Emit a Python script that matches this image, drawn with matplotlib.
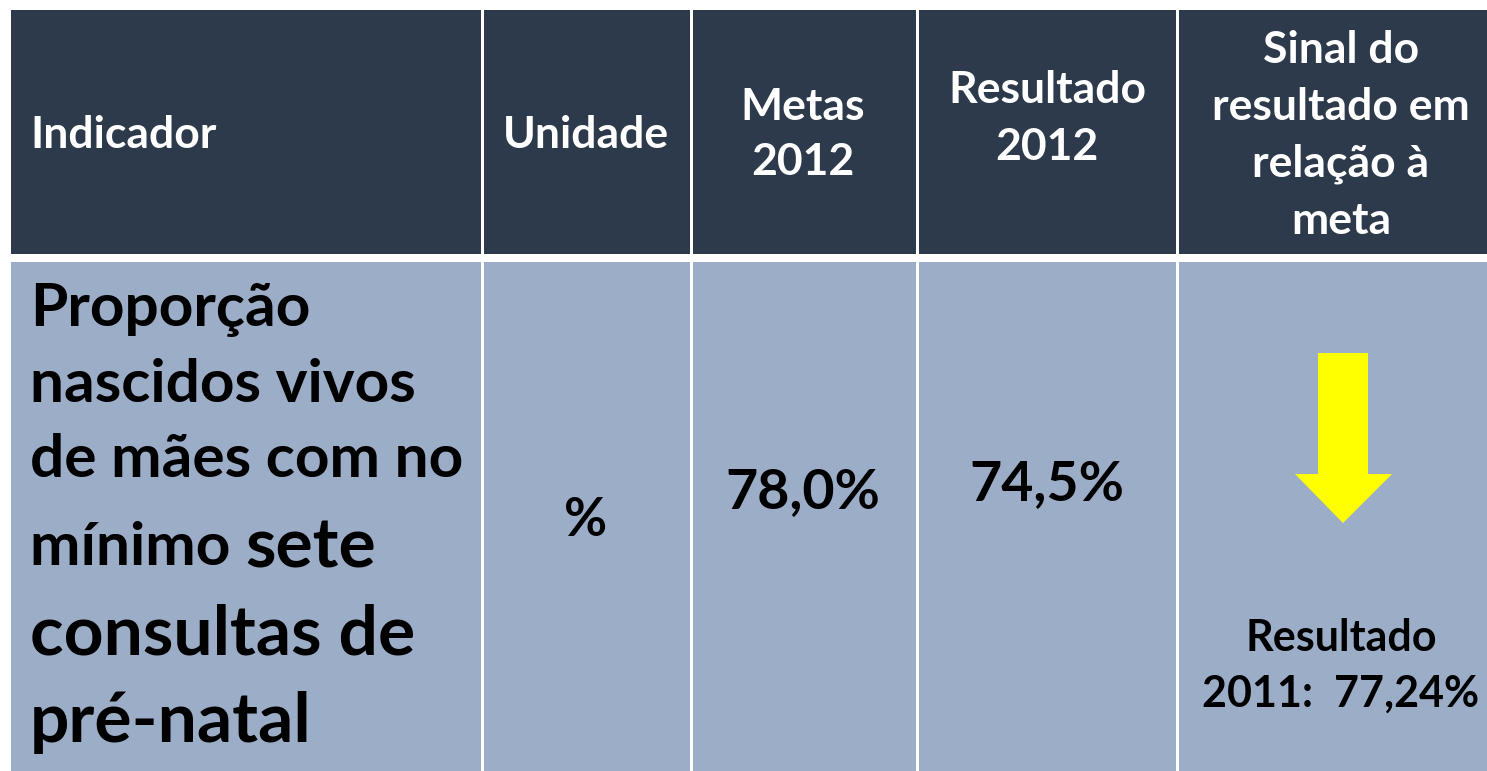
import matplotlib.pyplot as plt
from matplotlib.patches import Rectangle, Polygon

plt.rcParams['font.family'] = ['Lato', 'DejaVu Sans']

# dados da tabela
cabecalhos = ["Indicador", "Unidade", "Metas\n2012", "Resultado\n2012",
              "Sinal do\nresultado em\nrelação à\nmeta"]
indicador = ["Proporção", "nascidos vivos", "de mães com no", "mínimo", "sete",
             "consultas de", "pré-natal"]
unidade = "%"
meta_2012 = 78.0
resultado_2012 = 74.5
resultado_2011 = 77.24


def pct(v, casas=1):
    return f"{v:.{casas}f}%".replace(".", ",")


COR_CAB = "#2D3A4B"
COR_CORPO = "#9BADC7"

W, H = 1487, 771
fig = plt.figure(figsize=(W / 100, H / 100), dpi=100)
ax = fig.add_axes([0, 0, 1, 1])
ax.set_xlim(0, W)
ax.set_ylim(H, 0)
ax.axis("off")

# colunas e linhas (pixels)
bordas = [11, 481, 690, 916, 1176, W + 5]
gap = 3
cab_y0, cab_y1 = 10, 254
corpo_y0, corpo_y1 = 262, H + 5

for i in range(len(bordas) - 1):
    x0 = bordas[i] + (gap if i > 0 else 0)
    x1 = bordas[i + 1]
    ax.add_patch(Rectangle((x0, cab_y0), x1 - x0, cab_y1 - cab_y0, color=COR_CAB, lw=0))
    ax.add_patch(Rectangle((x0, corpo_y0), x1 - x0, corpo_y1 - corpo_y0, color=COR_CORPO, lw=0))


def linhas(x, ys, texto, size, cor, ha="center"):
    for y, t in zip(ys, texto.split("\n")):
        ax.text(x, y, t, ha=ha, va="center", fontsize=size, color=cor, fontweight="bold")


# cabeçalho
fs_cab = 32
linhas(30, [135], cabecalhos[0], fs_cab, "white", ha="left")
linhas(586, [135], cabecalhos[1], fs_cab, "white")
linhas(803, [107, 162], cabecalhos[2], fs_cab, "white")
linhas(1047, [90, 147], cabecalhos[3], fs_cab, "white")
linhas(1341, [50, 107, 164, 221], cabecalhos[4], fs_cab, "white")

# coluna do indicador
fs_ind = 43.5
fs_ind2 = 50
ax.text(30, 310, indicador[0], fontsize=fs_ind, fontweight="bold", va="center")
ax.text(30, 385, indicador[1], fontsize=fs_ind, fontweight="bold", va="center")
ax.text(30, 460, indicador[2], fontsize=fs_ind, fontweight="bold", va="center")
t = ax.text(30, 548, indicador[3] + " ", fontsize=fs_ind, fontweight="bold", va="center")
fig.canvas.draw()
bb = t.get_window_extent()
xfim = ax.transData.inverted().transform((bb.x1, bb.y0))[0]
ax.text(xfim, 548, indicador[4], fontsize=fs_ind2, fontweight="bold", va="center")
ax.text(30, 635, indicador[5], fontsize=fs_ind2, fontweight="bold", va="center")
ax.text(30, 722, indicador[6], fontsize=fs_ind2, fontweight="bold", va="center")

# valores
ax.text(586, 520, unidade, fontsize=38, fontweight="bold", ha="center", va="center")
ax.text(803, 492, pct(meta_2012), fontsize=40, fontweight="bold", ha="center", va="center")
ax.text(1047, 484, pct(resultado_2012), fontsize=40, fontweight="bold", ha="center", va="center")

# seta de sinal (resultado abaixo da meta -> seta para baixo)
if resultado_2012 < meta_2012:
    cx = 1343
    seta = [(cx - 25, 353), (cx + 25, 353), (cx + 25, 474), (cx + 49, 474),
            (cx, 523), (cx - 48, 474), (cx - 25, 474)]
    ax.add_patch(Polygon(seta, closed=True, color="#FFFF00", lw=0))

linhas(1341, [638, 694], "Resultado\n2011:  " + pct(resultado_2011, 2), 31, "black")

fig.savefig("out.png", dpi=100)
